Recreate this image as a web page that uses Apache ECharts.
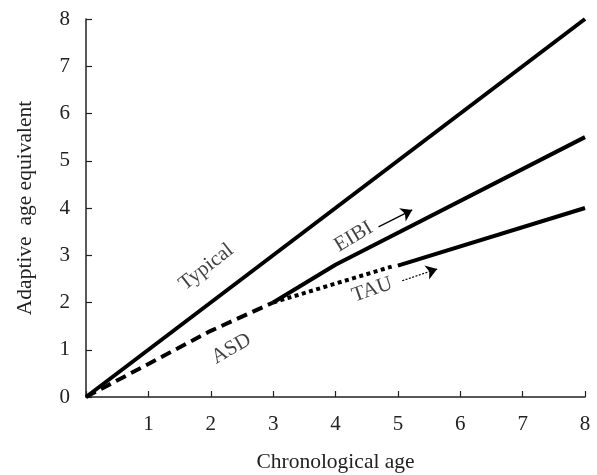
<!DOCTYPE html>
<html>
<head>
<meta charset="utf-8">
<script src="https://cdn.jsdelivr.net/npm/echarts@6/dist/echarts.min.js"></script>
<style>html,body{margin:0;padding:0;background:#fff}#c{width:597px;height:475px}</style>
</head>
<body>
<div id="c"></div>
<script>
var xTicks = [0,1,2,3,4,5,6,7,8];
var yTicks = [0,1,2,3,4,5,6,7,8];
var typical = [[0,0],[8,8]];
var asd = [[0,0],[2,1.4],[3,2]];
var eibi = [[3,2],[4,2.8],[8,5.5]];
var tauDotted = [[3,2],[4.9,2.76]];
var tauSolid = [[5,2.78],[8,4]];
var labelNames = ['Typical','EIBI','TAU','ASD'];
var labelPos = [[1.93,2.75],[4.29,3.39],[4.59,2.27],[2.33,1.02]];
var labelRot = [38,31,19,30];
var arrowEibi = [[4.69,3.60],[5.23,3.96]];
var arrowTau = [[5.07,2.46],[5.63,2.71]];

var FONT = 'Liberation Serif';
var FS = 21;
var NFS = 21.5;

var labelData = labelNames.map(function(n,i){
  return {name:n, value:labelPos[i], label:{rotate:labelRot[i]}};
});

var chart = echarts.init(document.getElementById('c'), null, {renderer:'canvas'});
chart.setOption({
  animation:false,
  backgroundColor:'#fff',
  grid:{left:86,right:12,top:19,bottom:78,containLabel:false,outerBoundsMode:'none'},
  xAxis:{
    type:'value',min:0,max:8,interval:1,
    name:'Chronological age',nameLocation:'middle',nameGap:54,
    nameTextStyle:{fontFamily:FONT,fontSize:NFS,color:'#222'},
    axisLine:{show:true,lineStyle:{color:'#222',width:1.5}},
    axisTick:{show:true,inside:true,length:6,lineStyle:{color:'#222',width:1.2}},
    axisLabel:{fontFamily:FONT,fontSize:FS,color:'#222',margin:17,
      formatter:function(v){return v===0?'':String(v);}},
    splitLine:{show:false}
  },
  yAxis:{
    type:'value',min:0,max:8,interval:1,
    name:'Adaptive  age equivalent',nameLocation:'middle',nameGap:50,
    nameTextStyle:{fontFamily:FONT,fontSize:NFS,color:'#222'},
    axisLine:{show:true,lineStyle:{color:'#222',width:1.5}},
    axisTick:{show:true,inside:true,length:6,lineStyle:{color:'#222',width:1.2}},
    axisLabel:{fontFamily:FONT,fontSize:FS,color:'#222',margin:16},
    splitLine:{show:false}
  },
  series:[
    {type:'line',data:typical,symbol:'none',lineStyle:{color:'#000',width:4}},
    {type:'line',data:asd,symbol:'none',lineStyle:{color:'#000',width:4,type:[11,6]}},
    {type:'line',data:eibi,symbol:'none',lineStyle:{color:'#000',width:4}},
    {type:'line',data:tauDotted,symbol:'none',lineStyle:{color:'#000',width:4,type:[4,3.5]}},
    {type:'line',data:tauSolid,symbol:'none',lineStyle:{color:'#000',width:4}},
    {type:'lines',coordinateSystem:'cartesian2d',symbol:['none','arrow'],symbolSize:[8,11],
      data:[{coords:arrowEibi}],lineStyle:{color:'#000',width:1.2,type:'solid',opacity:1}},
    {type:'lines',coordinateSystem:'cartesian2d',symbol:['none','arrow'],symbolSize:[8,11],
      data:[{coords:arrowTau}],lineStyle:{color:'#000',width:1.2,type:[2,1.5],opacity:1}},
    {type:'scatter',data:labelData,symbolSize:0,silent:true,
      label:{show:true,position:'inside',formatter:'{b}',fontFamily:FONT,fontSize:FS,color:'#111'}}
  ]
});
</script>
</body>
</html>
